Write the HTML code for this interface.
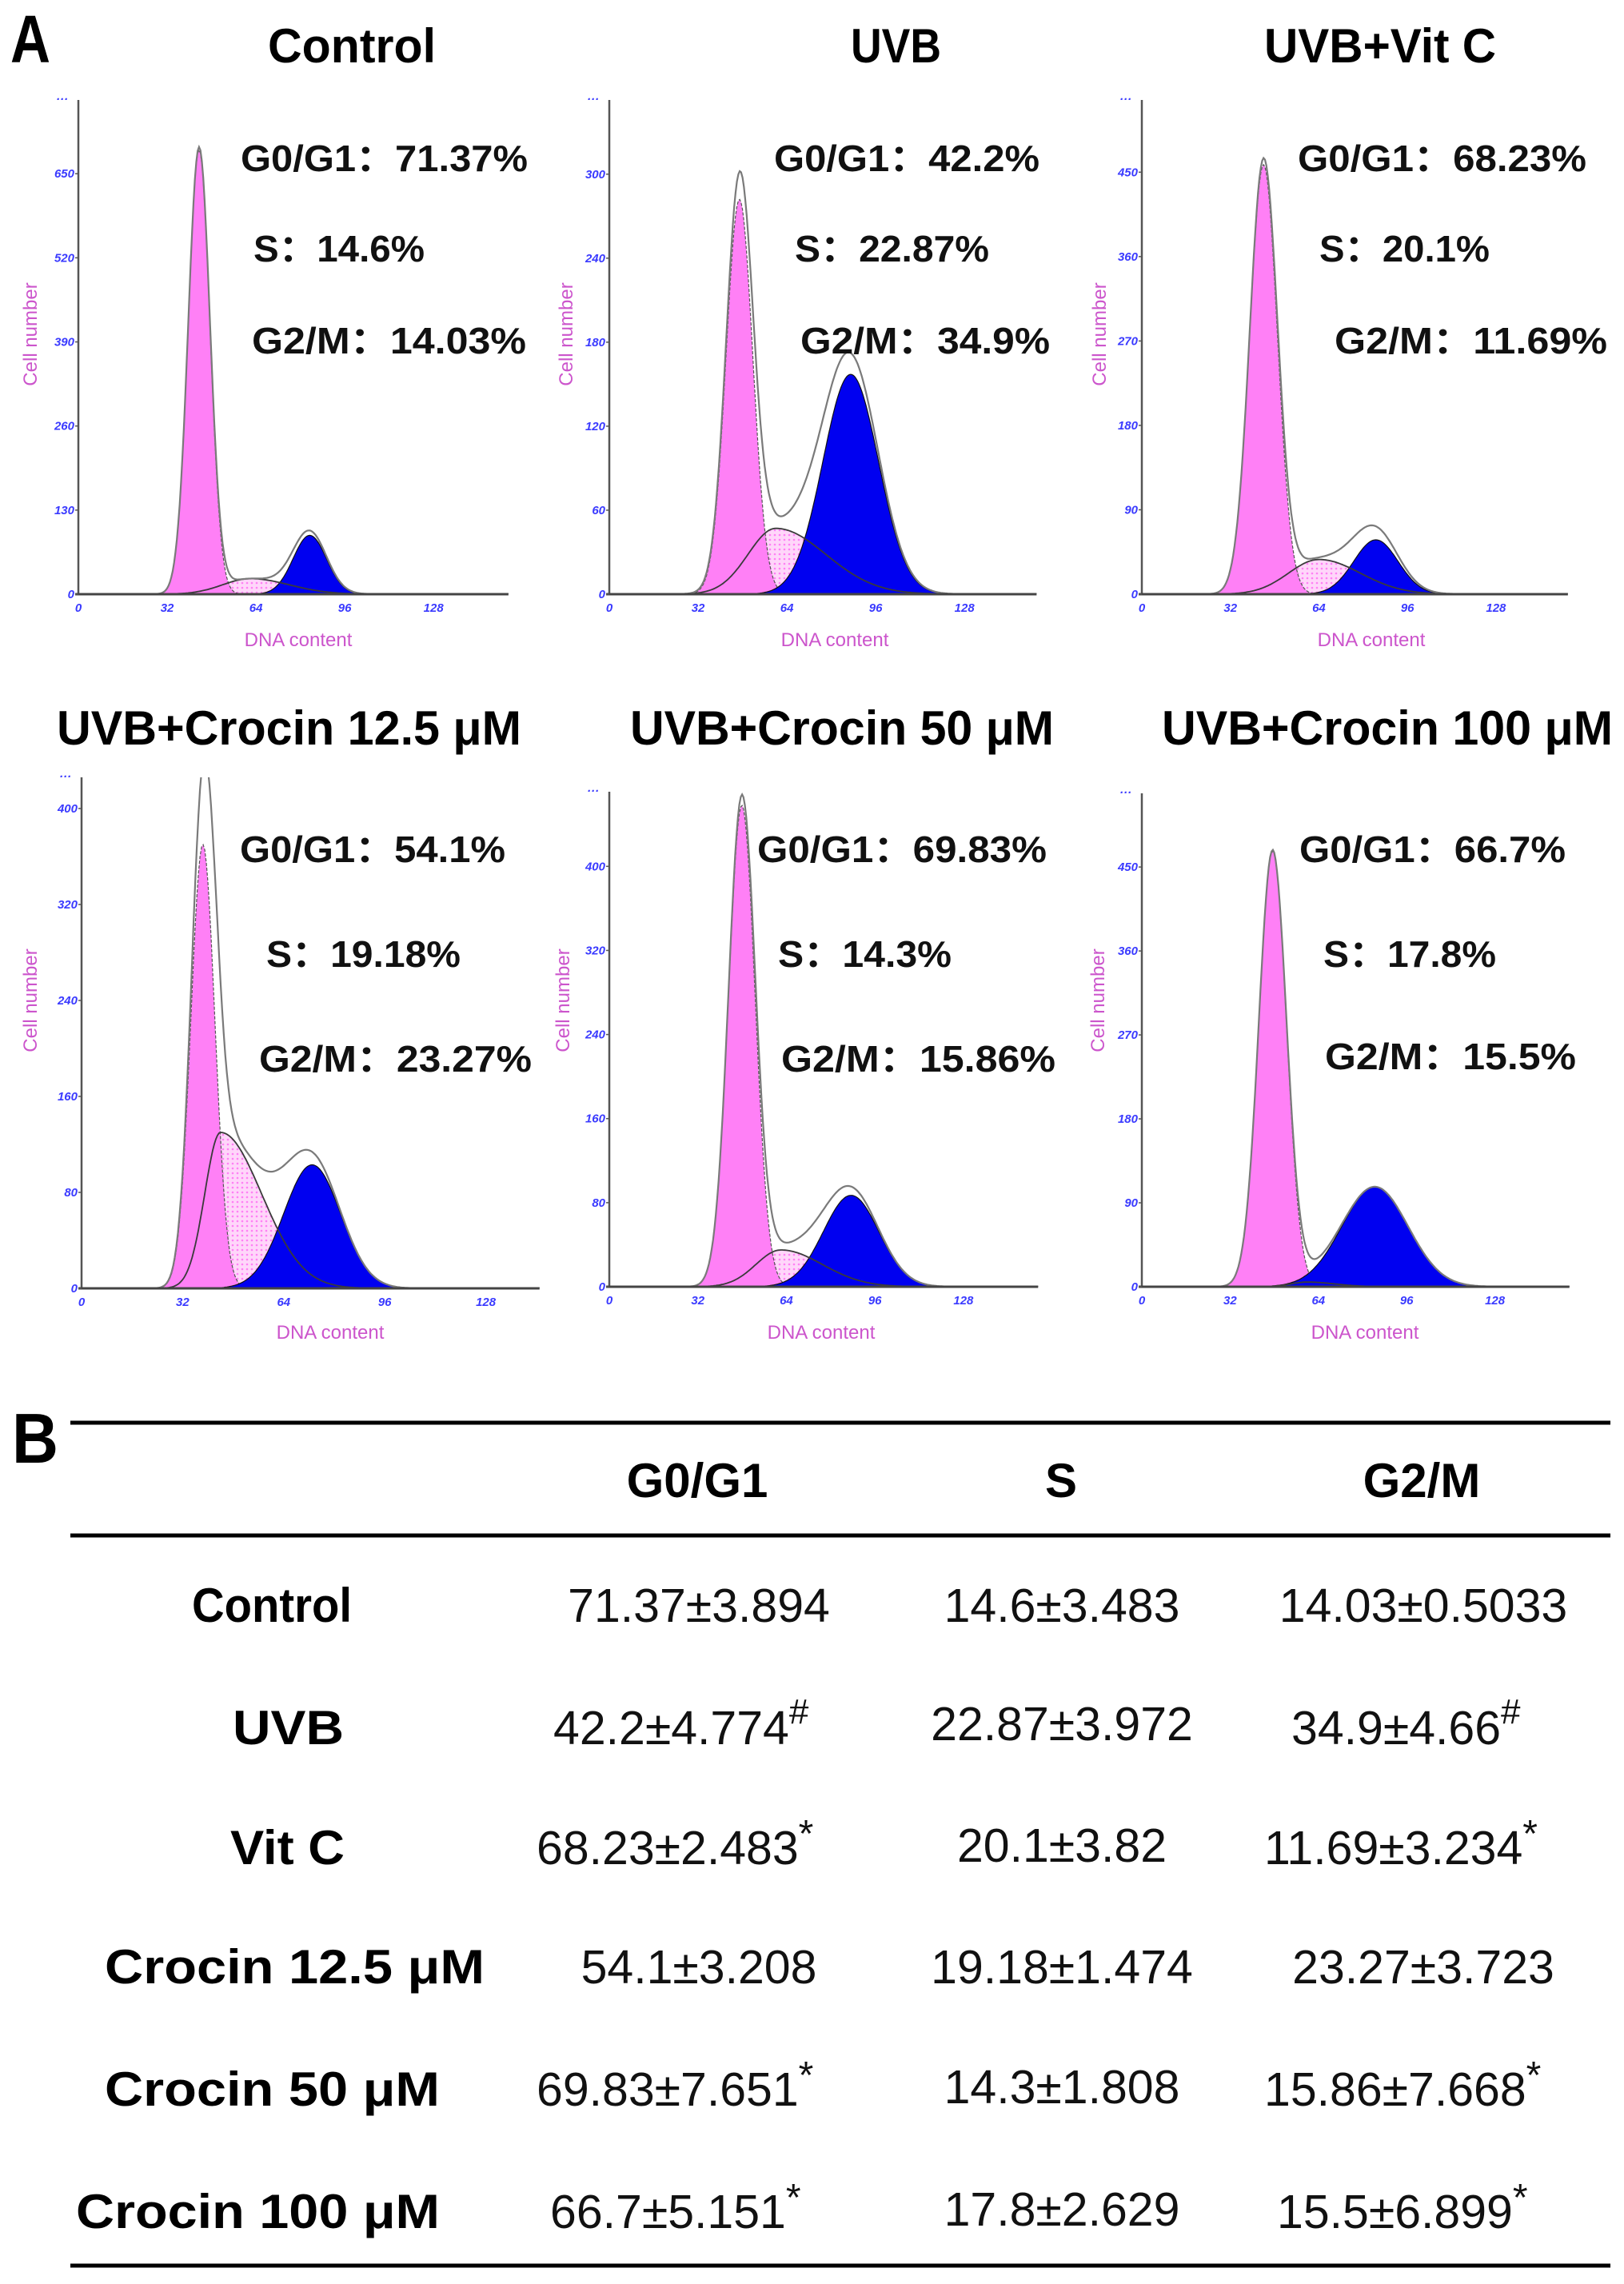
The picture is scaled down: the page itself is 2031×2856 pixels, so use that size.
<!DOCTYPE html>
<html><head><meta charset="utf-8"><style>
html,body{margin:0;padding:0;background:#fff}
svg{display:block}
.ttl{font-family:"Liberation Sans",sans-serif;font-weight:bold;font-size:60px;fill:#000}
.st{font-family:"Liberation Sans","Noto Sans CJK SC",sans-serif;font-weight:bold;font-size:46px;fill:#111}
.yl{font-family:"Liberation Sans",sans-serif;font-size:24px;fill:#cc55cc}
.tk{font-family:"Liberation Sans",sans-serif;font-size:15px;font-weight:bold;font-style:italic;fill:#3a3aff}
.th{font-family:"Liberation Sans",sans-serif;font-weight:bold;font-size:60px;fill:#000}
.tv{font-family:"Liberation Sans",sans-serif;font-size:59px;fill:#111}
</style></head><body>
<svg id="fig" width="2031" height="2856" viewBox="0 0 2031 2856" xmlns="http://www.w3.org/2000/svg">
<defs>
<pattern id="hatch" width="6" height="6" patternUnits="userSpaceOnUse">
<rect width="6" height="6" fill="#ffd6fa"/><circle cx="3" cy="3" r="1.3" fill="#ff80f4"/>
</pattern>
</defs>
<text x="13" y="78" font-family="Liberation Sans, sans-serif" font-weight="bold" font-size="84" textLength="50" lengthAdjust="spacingAndGlyphs">A</text>
<text x="15" y="1829" font-family="Liberation Sans, sans-serif" font-weight="bold" font-size="88" textLength="58" lengthAdjust="spacingAndGlyphs">B</text>

<text class="ttl" x="335" y="78" textLength="210" lengthAdjust="spacingAndGlyphs">Control</text>
<text class="ttl" x="1064" y="78" textLength="113" lengthAdjust="spacingAndGlyphs">UVB</text>
<text class="ttl" x="1581" y="78" textLength="290" lengthAdjust="spacingAndGlyphs">UVB+Vit C</text>
<text class="ttl" x="71" y="931" textLength="581" lengthAdjust="spacingAndGlyphs">UVB+Crocin 12.5 μM</text>
<text class="ttl" x="788" y="931" textLength="530" lengthAdjust="spacingAndGlyphs">UVB+Crocin 50 μM</text>
<text class="ttl" x="1453" y="931" textLength="564" lengthAdjust="spacingAndGlyphs">UVB+Crocin 100 μM</text>

<g id="plots"></g>

<text class="st" x="301" y="214" textLength="359" lengthAdjust="spacingAndGlyphs">G0/G1：71.37%</text>
<text class="st" x="317" y="327" textLength="214" lengthAdjust="spacingAndGlyphs">S：14.6%</text>
<text class="st" x="315" y="442" textLength="343" lengthAdjust="spacingAndGlyphs">G2/M：14.03%</text>
<text class="st" x="968" y="214" textLength="332" lengthAdjust="spacingAndGlyphs">G0/G1：42.2%</text>
<text class="st" x="994" y="327" textLength="243" lengthAdjust="spacingAndGlyphs">S：22.87%</text>
<text class="st" x="1001" y="442" textLength="312" lengthAdjust="spacingAndGlyphs">G2/M：34.9%</text>
<text class="st" x="1623" y="214" textLength="361" lengthAdjust="spacingAndGlyphs">G0/G1：68.23%</text>
<text class="st" x="1650" y="327" textLength="213" lengthAdjust="spacingAndGlyphs">S：20.1%</text>
<text class="st" x="1669" y="442" textLength="341" lengthAdjust="spacingAndGlyphs">G2/M：11.69%</text>
<text class="st" x="300" y="1078" textLength="332" lengthAdjust="spacingAndGlyphs">G0/G1：54.1%</text>
<text class="st" x="333" y="1209" textLength="243" lengthAdjust="spacingAndGlyphs">S：19.18%</text>
<text class="st" x="324" y="1340" textLength="341" lengthAdjust="spacingAndGlyphs">G2/M：23.27%</text>
<text class="st" x="947" y="1078" textLength="362" lengthAdjust="spacingAndGlyphs">G0/G1：69.83%</text>
<text class="st" x="973" y="1209" textLength="217" lengthAdjust="spacingAndGlyphs">S：14.3%</text>
<text class="st" x="977" y="1340" textLength="343" lengthAdjust="spacingAndGlyphs">G2/M：15.86%</text>
<text class="st" x="1625" y="1078" textLength="333" lengthAdjust="spacingAndGlyphs">G0/G1：66.7%</text>
<text class="st" x="1655" y="1209" textLength="216" lengthAdjust="spacingAndGlyphs">S：17.8%</text>
<text class="st" x="1657" y="1337" textLength="314" lengthAdjust="spacingAndGlyphs">G2/M：15.5%</text>

<g>
<line x1="88" y1="1779" x2="2014" y2="1779" stroke="#000" stroke-width="5"/>
<line x1="88" y1="1920" x2="2014" y2="1920" stroke="#000" stroke-width="5"/>
<line x1="88" y1="2833" x2="2014" y2="2833" stroke="#000" stroke-width="5"/>
<text class="th" x="872" y="1872" text-anchor="middle">G0/G1</text>
<text class="th" x="1327" y="1872" text-anchor="middle">S</text>
<text class="th" x="1778" y="1872" text-anchor="middle">G2/M</text>
<text class="th" x="240" y="2028" textLength="200" lengthAdjust="spacingAndGlyphs">Control</text>
<text class="th" x="291" y="2181" textLength="139" lengthAdjust="spacingAndGlyphs">UVB</text>
<text class="th" x="288" y="2331" textLength="143" lengthAdjust="spacingAndGlyphs">Vit C</text>
<text class="th" x="131" y="2480" textLength="475" lengthAdjust="spacingAndGlyphs">Crocin 12.5 μM</text>
<text class="th" x="131" y="2633" textLength="419" lengthAdjust="spacingAndGlyphs">Crocin 50 μM</text>
<text class="th" x="95" y="2786" textLength="455" lengthAdjust="spacingAndGlyphs">Crocin 100 μM</text>

<text class="tv" x="874" y="2028" text-anchor="middle">71.37±3.894</text>
<text class="tv" x="1328" y="2028" text-anchor="middle">14.6±3.483</text>
<text class="tv" x="1780" y="2028" text-anchor="middle">14.03±0.5033</text>

<text class="tv" x="692" y="2181">42.2±4.774<tspan font-size="44" dy="-26">#</tspan></text>
<text class="tv" x="1328" y="2176" text-anchor="middle">22.87±3.972</text>
<text class="tv" x="1615" y="2181">34.9±4.66<tspan font-size="44" dy="-26">#</tspan></text>

<text class="tv" x="671" y="2331">68.23±2.483<tspan font-size="48" dy="-22">*</tspan></text>
<text class="tv" x="1328" y="2328" text-anchor="middle">20.1±3.82</text>
<text class="tv" x="1581" y="2331">11.69±3.234<tspan font-size="48" dy="-22">*</tspan></text>

<text class="tv" x="874" y="2480" text-anchor="middle">54.1±3.208</text>
<text class="tv" x="1328" y="2480" text-anchor="middle">19.18±1.474</text>
<text class="tv" x="1780" y="2480" text-anchor="middle">23.27±3.723</text>

<text class="tv" x="671" y="2633">69.83±7.651<tspan font-size="48" dy="-22">*</tspan></text>
<text class="tv" x="1328" y="2630" text-anchor="middle">14.3±1.808</text>
<text class="tv" x="1581" y="2633">15.86±7.668<tspan font-size="48" dy="-22">*</tspan></text>

<text class="tv" x="688" y="2786">66.7±5.151<tspan font-size="48" dy="-22">*</tspan></text>
<text class="tv" x="1328" y="2783" text-anchor="middle">17.8±2.629</text>
<text class="tv" x="1597" y="2786">15.5±6.899<tspan font-size="48" dy="-22">*</tspan></text>
</g>
</svg>
<script>
// ---- chart data (per panel: Control, UVB, UVB+VitC, Crocin12.5, Crocin50, Crocin100) ----
const panelNames = ["control","uvb","uvb-vitc","crocin-12","crocin-50","crocin-100"];
// G0/G1 peak: [mean DNA content, sd, height]
const g1Peaks = [[43.5,3.9,687],[46.9,4.8,282],[44,5,458],[38.4,3.8,370],[47.9,4.8,458],[47.4,5,467]];
// S phase: [mode, sdLeft, sdRight, height]
const sPhase = [[62,10,14,24],[60,10,18,47],[64,11,15,37],[44,5,13,130],[62,9,15,35],[60,6,10,5]];
// G2/M peak: [mean, sd, height]
const g2Peaks = [[83.4,6,91],[87,10,157],[84.6,8,58],[73,9,103],[87.4,10,87],[84.5,12,107]];
const yMaxValues = [764,353,527,426,471,529];
const yTickSteps = [130,60,90,80,80,90];
const xTickLabels = [0,32,64,96,128];
const yTickCount = 6;

// ---- layout (pixels) ----
const layout = [
 {ax:98,by:743,top:125,xs:3.47,xMax:155,ylx:38,yly:418,dnx:373,dny:800},
 {ax:762,by:743,top:125,xs:3.47,xMax:154,ylx:708,yly:418,dnx:1044,dny:800},
 {ax:1428,by:743,top:125,xs:3.46,xMax:154,ylx:1375,yly:418,dnx:1715,dny:800},
 {ax:102,by:1611,top:972,xs:3.95,xMax:145,ylx:38,yly:1251,dnx:413,dny:1666},
 {ax:762,by:1609,top:990,xs:3.46,xMax:155,ylx:704,yly:1251,dnx:1027,dny:1666},
 {ax:1428,by:1609,top:992,xs:3.45,xMax:155,ylx:1373,yly:1251,dnx:1707,dny:1666}
];
const NS="http://www.w3.org/2000/svg";
const root=document.getElementById('plots');
function mk(tag,attrs,parent){const e=document.createElementNS(NS,tag);for(const k in attrs)e.setAttribute(k,attrs[k]);parent.appendChild(e);return e;}
function gauss(x,m,s,h){return h*Math.exp(-((x-m)*(x-m))/(2*s*s));}
function sfun(x,p){const s=x<p[0]?p[1]:p[2];return gauss(x,p[0],s,p[3]);}

for(let i=0;i<6;i++){
  const L=layout[i];
  const yScale=(L.by-L.top)/yMaxValues[i];
  const X=v=>L.ax+v*L.xs;
  const Y=v=>L.by-v*yScale;
  const g=mk('g',{},root);
  
  
  const cp=mk('clipPath',{id:'cp'+i},g);
  mk('rect',{x:L.ax,y:L.top,width:L.xMax*L.xs,height:L.by-L.top},cp);
  const plot=mk('g',{'clip-path':'url(#cp'+i+')'},g);
  const xs=[];for(let x=0;x<=L.xMax;x+=0.5)xs.push(x);
  const area=f=>{let d='M'+X(0)+','+L.by;xs.forEach(x=>{d+=' L'+X(x).toFixed(1)+','+Y(f(x)).toFixed(1);});return d+' L'+X(L.xMax)+','+L.by+' Z';};
  const line=f=>{let d='';xs.forEach((x,k)=>{d+=(k?' L':'M')+X(x).toFixed(1)+','+Y(f(x)).toFixed(1);});return d;};
  const fG1=x=>gauss(x,g1Peaks[i][0],g1Peaks[i][1],g1Peaks[i][2]);
  const fG2=x=>gauss(x,g2Peaks[i][0],g2Peaks[i][1],g2Peaks[i][2]);
  const fS=x=>sfun(x,sPhase[i]);
  const sArea=mk('path',{d:area(fS),fill:'url(#hatch)',stroke:'none'},plot);
  
  
  const g1Area=mk('path',{d:area(fG1),fill:'#ff80f6',stroke:'#555',"stroke-width":1.2,"stroke-dasharray":"4 2"},plot);
  
  
  const g2Area=mk('path',{d:area(fG2),fill:'#0000f0',stroke:'#111',"stroke-width":1.2},plot);
  
  
  const sLine=mk('path',{d:line(fS),fill:'none',stroke:'#3a3a3a',"stroke-width":1.8},plot);
  
  
  const tLine=mk('path',{d:line(x=>fG1(x)+fG2(x)+fS(x)),fill:'none',stroke:'#7a7a7a',"stroke-width":2.2},plot);
  
  
  const yAx=mk('line',{x1:L.ax,y1:L.top,x2:L.ax,y2:L.by,stroke:'#555',"stroke-width":2.5},g);
  
  
  const xAx=mk('line',{x1:L.ax-4,y1:L.by,x2:X(L.xMax),y2:L.by,stroke:'#444',"stroke-width":3},g);
  
  
  for(let k=0;k<yTickCount;k++){
    const v=k*yTickSteps[i];
    mk('line',{x1:L.ax-4,y1:Y(v),x2:L.ax,y2:Y(v),stroke:'#555',"stroke-width":1.5},g);
    const t=mk('text',{x:L.ax-5,y:Y(v)+5,'text-anchor':'end',class:'tk'},g);
    
    
    t.textContent=v;
  }
  const dots=mk('text',{x:L.ax-28,y:L.top+4,class:'tk'},g);
  
  
  dots.textContent='···';
  xTickLabels.forEach(v=>{
    const t=mk('text',{x:X(v),y:L.by+22,'text-anchor':'middle',class:'tk'},g);
    
    
    t.textContent=v;
  });
  const yt=mk('text',{x:L.ylx,y:L.yly,'text-anchor':'middle',class:'yl',transform:'rotate(-90 '+L.ylx+' '+L.yly+')',dy:8},g);
  
  
  yt.textContent='Cell number';
  const xt=mk('text',{x:L.dnx,y:L.dny+8,'text-anchor':'middle',class:'yl'},g);
  
  
  xt.textContent='DNA content';
}
</script>
</body></html>
